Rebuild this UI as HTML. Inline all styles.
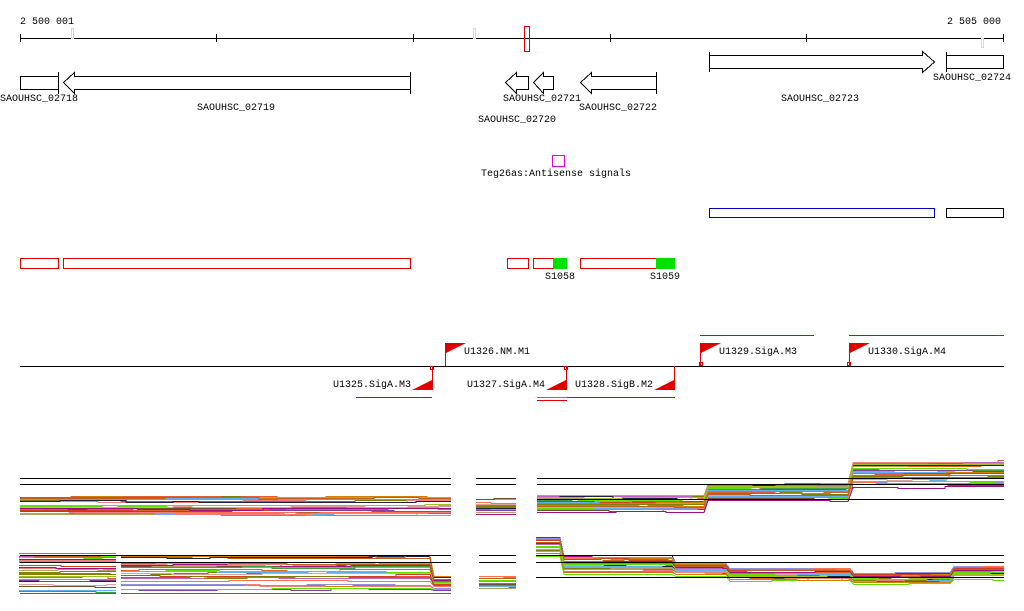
<!DOCTYPE html>
<html><head><meta charset="utf-8"><style>
html,body{margin:0;padding:0;background:#fff;width:1024px;height:611px;overflow:hidden}
svg text{font-family:"Liberation Mono","DejaVu Sans Mono",monospace;font-size:10px;fill:#000}
</style></head><body>
<svg id="s" width="1024" height="611" viewBox="0 0 1024 611" xmlns="http://www.w3.org/2000/svg" shape-rendering="crispEdges">
<text x="20" y="24">2 500 001</text>
<text x="1001" y="24" text-anchor="end">2 505 000</text>
<line x1="20" y1="38.5" x2="1004" y2="38.5" stroke="#000"/>
<g stroke="#000"><line x1="20.5" y1="34" x2="20.5" y2="42"/><line x1="216.5" y1="34" x2="216.5" y2="42"/><line x1="413.5" y1="34" x2="413.5" y2="42"/><line x1="610.5" y1="34" x2="610.5" y2="42"/><line x1="806.5" y1="34" x2="806.5" y2="42"/><line x1="1003.5" y1="34" x2="1003.5" y2="42"/></g>
<g fill="none" stroke="#f6d0c0"><rect x="71.5" y="28.5" width="2" height="10"/><rect x="473.5" y="28.5" width="2" height="10"/><rect x="981.5" y="38.5" width="2" height="9"/></g>
<rect x="524.5" y="26.5" width="5" height="25" fill="none" stroke="#d00"/>
<g fill="#fff" stroke="#000">
<rect x="20.5" y="76.5" width="38" height="13"/>
<line x1="58.5" y1="72" x2="58.5" y2="94"/>
<polygon points="63.5,82.5 74.5,72.5 74.5,76.5 410.5,76.5 410.5,89.5 74.5,89.5 74.5,93.5"/>
<line x1="410.5" y1="72" x2="410.5" y2="94"/>
<polygon points="505.5,82.5 516.5,72.5 516.5,76.5 528.5,76.5 528.5,89.5 516.5,89.5 516.5,93.5"/>
<polygon points="533.5,82.5 543.5,72.5 543.5,76.5 553.5,76.5 553.5,89.5 543.5,89.5 543.5,93.5"/>
<polygon points="580.5,82.5 591.5,72.5 591.5,76.5 656.5,76.5 656.5,89.5 591.5,89.5 591.5,93.5"/>
<line x1="656.5" y1="72" x2="656.5" y2="94"/>
<polygon points="709.5,55.5 709.5,68.5 922.5,68.5 922.5,72.5 934.5,62 922.5,51.5 922.5,55.5"/>
<line x1="709.5" y1="52" x2="709.5" y2="72"/>
<rect x="946.5" y="55.5" width="57" height="13"/>
<line x1="946.5" y1="52" x2="946.5" y2="72"/>
</g>
<text x="0" y="101">SAOUHSC_02718</text>
<text x="236" y="110" text-anchor="middle">SAOUHSC_02719</text>
<text x="517" y="122" text-anchor="middle">SAOUHSC_02720</text>
<text x="542" y="101" text-anchor="middle">SAOUHSC_02721</text>
<text x="618" y="110" text-anchor="middle">SAOUHSC_02722</text>
<text x="820" y="101" text-anchor="middle">SAOUHSC_02723</text>
<text x="972" y="80" text-anchor="middle">SAOUHSC_02724</text>
<rect x="552.5" y="155.5" width="12" height="11" fill="none" stroke="#e000e0"/>
<text x="556" y="176" text-anchor="middle">Teg26as:Antisense signals</text>
<rect x="709.5" y="208.5" width="225" height="9" fill="none" stroke="#0000c0"/>
<rect x="946.5" y="208.5" width="57" height="9" fill="none" stroke="#000"/>
<g fill="none" stroke="#e00000">
<rect x="20.5" y="258.5" width="38" height="10"/><rect x="63.5" y="258.5" width="347" height="10"/>
<rect x="507.5" y="258.5" width="21" height="10"/><rect x="533.5" y="258.5" width="20" height="10"/>
<rect x="580.5" y="258.5" width="76" height="10"/>
</g>
<rect x="553" y="258" width="14" height="11" fill="#00e000"/>
<rect x="656" y="258" width="19" height="11" fill="#00e000"/>
<text x="560" y="279" text-anchor="middle">S1058</text>
<text x="665" y="279" text-anchor="middle">S1059</text>
<line x1="20" y1="366.5" x2="1004" y2="366.5" stroke="#000"/>
<g stroke="#e00000" fill="none">
<line x1="700" y1="335.5" x2="814" y2="335.5"/><line x1="849" y1="335.5" x2="1004" y2="335.5"/>
<line x1="356" y1="397.5" x2="432" y2="397.5"/><line x1="567" y1="397.5" x2="675" y2="397.5"/>
<line x1="537" y1="400.5" x2="567" y2="400.5"/>
<line x1="445.5" y1="343" x2="445.5" y2="366"/><line x1="700.5" y1="343" x2="700.5" y2="366"/><line x1="849.5" y1="343" x2="849.5" y2="366"/>
<line x1="432.5" y1="366" x2="432.5" y2="390"/><line x1="566.5" y1="366" x2="566.5" y2="390"/><line x1="674.5" y1="366" x2="674.5" y2="390"/>
<rect x="430.5" y="366.5" width="3" height="3"/><rect x="564.5" y="366.5" width="3" height="3"/>
<rect x="699.5" y="362.5" width="3" height="3"/><rect x="847.5" y="362.5" width="3" height="3"/>
</g>
<line x1="537" y1="397.5" x2="567" y2="397.5" stroke="#00d000"/>
<g fill="#e00000">
<polygon points="446,343 466,343 446,353"/><polygon points="701,343 721,343 701,353"/><polygon points="850,343 870,343 850,353"/>
<polygon points="432,380 432,390 412,390"/><polygon points="566,380 566,390 546,390"/><polygon points="674,380 674,390 654,390"/>
</g>
<text x="464" y="354">U1326.NM.M1</text>
<text x="719" y="354">U1329.SigA.M3</text>
<text x="868" y="354">U1330.SigA.M4</text>
<text x="333" y="387">U1325.SigA.M3</text>
<text x="467" y="387">U1327.SigA.M4</text>
<text x="575" y="387">U1328.SigB.M2</text>
<g id="plots" fill="none" stroke-width="1"></g>
</svg>
<script>
(function(){
var g=document.getElementById('plots');var NS='http://www.w3.org/2000/svg';
var cols=['#e06030','#a01080','#808000','#f08080','#60b0f0','#c06020','#60e000','#d08000','#9090e0','#c060c0','#e05050','#705030','#ff7050','#b0a060','#202040','#40a040','#e0a0a0','#8040a0','#d04020','#a0c020'];
var seed=7;function r(){seed=(seed*16807)%2147483647;return seed/2147483647;}
function line(x1,y1,x2,y2,c){var l=document.createElementNS(NS,'line');l.setAttribute('x1',x1);l.setAttribute('y1',y1+.5);l.setAttribute('x2',x2);l.setAttribute('y2',y2+.5);l.setAttribute('stroke',c);g.appendChild(l);}
function trace(segs,N){for(var i=0;i<N;i++){var c=cols[i%cols.length];var rank=r();var pts=[];segs.forEach(function(s){var base=s[2]+rank*(s[3]-s[2]);var y=Math.round(base);for(var x=s[0];x<s[1];){var nx=Math.min(s[1],x+15+Math.floor(r()*40));pts.push(x+','+(y+.5));pts.push(nx+','+(y+.5));if(r()<0.5)y=Math.round(base+(r()-.5)*2.5);x=nx;}});var p=document.createElementNS(NS,'polyline');p.setAttribute('points',pts.join(' '));p.setAttribute('stroke',c);p.setAttribute('fill','none');g.appendChild(p);}}
trace([[20,451,497,515]],26);trace([[476,516,499,515]],18);
trace([[537,704,494,512],[708,848,483,500],[853,1004,460,487]],28);
trace([[19,116,553,592]],24);trace([[121,430,555,590],[434,451,576,590]],28);trace([[479,516,575,588]],14);
trace([[536,560,536,556],[564,672,555,574],[676,726,562,576],[730,850,567,581],[854,950,572,584],[954,1004,565,579]],28);
var k='#000';
[[20,451,478],[20,451,484],[476,516,478],[476,516,484],[537,1004,478],[537,1004,484],[537,1004,499],
 [20,451,555],[20,451,562],[479,516,555],[479,516,562],[536,1004,555],[536,1004,562],[536,1004,577]].forEach(function(a){line(a[0],a[2],a[1],a[2],k);});
line(20,593,116,593,'#805050');line(121,593,451,593,'#805050');
})();
</script>
</body></html>
